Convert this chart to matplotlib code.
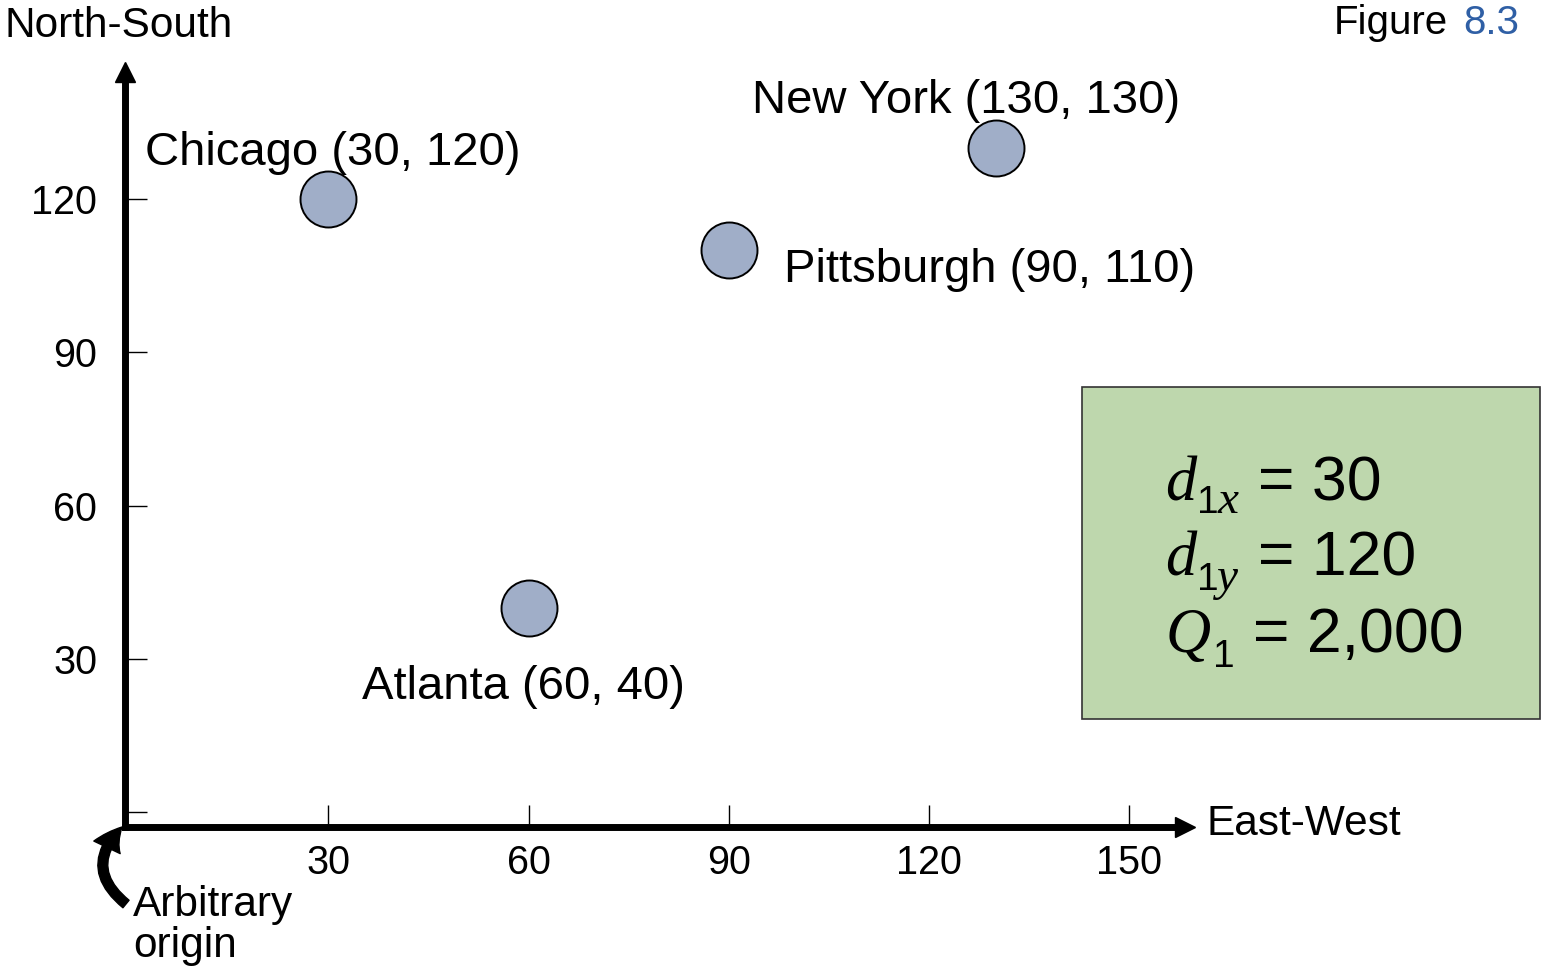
import matplotlib
matplotlib.use('Agg')
import matplotlib.pyplot as plt
from matplotlib.patches import Rectangle, FancyArrowPatch

plt.rcParams['font.family'] = ['Liberation Sans', 'DejaVu Sans']

# city locations (east-west, north-south)
cities = ['Chicago', 'New York', 'Pittsburgh', 'Atlanta']
x_vals = [30, 130, 90, 60]
y_vals = [120, 130, 110, 40]

x_ticks = [30, 60, 90, 120, 150]
y_ticks = [0, 30, 60, 90, 120]
y_tick_labels = ['', '30', '60', '90', '120']

W, H = 1541, 969


def px(x, y):
    '''pixel position (from top-left) -> figure fraction'''
    return x / W, 1 - y / H


fig = plt.figure(figsize=(W / 100, H / 100), dpi=100)

# axes box: left spine at x=125px, bottom spine at y=827px
left, bottom = px(125, 827)
right, top = px(1185, 72)
ax = fig.add_axes([left, bottom, right - left, top - bottom])
ax.set_xlim(-0.45, 158.35)
ax.set_ylim(-2.88, 144.85)

for side in ['top', 'right']:
    ax.spines[side].set_visible(False)
for side in ['left', 'bottom']:
    ax.spines[side].set_linewidth(5)

# arrow heads on the axes
ax.plot(1, 0, '>', color='black', ms=14, transform=ax.transAxes, clip_on=False)
ax.plot(0, 1, '^', color='black', ms=14, transform=ax.transAxes, clip_on=False)

ax.set_xticks(x_ticks)
ax.set_xticklabels([str(v) for v in x_ticks])
ax.set_yticks(y_ticks)
ax.set_yticklabels(y_tick_labels)
ax.tick_params(direction='in', length=16, width=1, labelsize=28.5, colors='black')
ax.tick_params(axis='y', pad=20)
ax.tick_params(axis='x', pad=12)

ax.scatter(x_vals, y_vals, s=1625, c='#A0AEC8', edgecolors='black',
           linewidths=1.4, zorder=3, clip_on=False)

# label offsets in pixels from each point
offsets = {
    'Chicago': (-183, 34),
    'New York': (-244, 35),
    'Pittsburgh': (55, -32),
    'Atlanta': (-167, -91),
}
for name, x, y in zip(cities, x_vals, y_vals):
    ax.annotate(f'{name} ({x}, {y})', (x, y), xytext=offsets[name],
                textcoords='offset pixels', fontsize=34,
                ha='left', va='baseline')

# axis names
fig.text(*px(5, 37), 'North-South', fontsize=30.5, ha='left', va='baseline')
fig.text(*px(1207, 835), 'East-West', fontsize=30.5, ha='left', va='baseline')
fig.text(*px(133, 916), 'Arbitrary', fontsize=30.5, ha='left', va='baseline')
fig.text(*px(133, 957), 'origin', fontsize=30.5, ha='left', va='baseline')

# curved arrow pointing at the origin
arrow = FancyArrowPatch(px(126, 904), px(122, 827), transform=fig.transFigure,
                        arrowstyle='simple,tail_width=0.5,head_width=1.5,head_length=1.3',
                        mutation_scale=14, connectionstyle='arc3,rad=-0.55',
                        color='black', shrinkA=0, shrinkB=0)
fig.patches.append(arrow)

# figure number
fig.text(*px(1448, 34), 'Figure', fontsize=29, ha='right', va='baseline')
fig.text(*px(1463, 34), '8.3', fontsize=29, ha='left', va='baseline', color='#2F5FA5')

# box with the Chicago values
bx0, by0 = px(1082, 719)
bx1, by1 = px(1540, 387)
fig.patches.append(Rectangle((bx0, by0), bx1 - bx0, by1 - by0, transform=fig.transFigure,
                             facecolor='#BED7AD', edgecolor='#333333', linewidth=1.2))

serif_it = dict(family='Liberation Serif', style='italic')
# line 1
fig.text(*px(1165, 500), 'd', fontsize=45, va='baseline', **serif_it)
fig.text(*px(1197, 513), '1', fontsize=28, va='baseline')
fig.text(*px(1218, 513), 'x', fontsize=34, va='baseline', **serif_it)
fig.text(*px(1258, 500), '= 30', fontsize=45, va='baseline')
# line 2
fig.text(*px(1165, 575), 'd', fontsize=45, va='baseline', **serif_it)
fig.text(*px(1197, 590), '1', fontsize=28, va='baseline')
fig.text(*px(1217, 590), 'y', fontsize=34, va='baseline', **serif_it)
fig.text(*px(1258, 575), '= 120', fontsize=45, va='baseline')
# line 3
fig.text(*px(1166, 652), 'Q', fontsize=45, va='baseline', **serif_it)
fig.text(*px(1213, 667), '1', fontsize=28, va='baseline')
fig.text(*px(1253, 652), '= 2,000', fontsize=45, va='baseline')

fig.savefig('out.png', dpi=100)
